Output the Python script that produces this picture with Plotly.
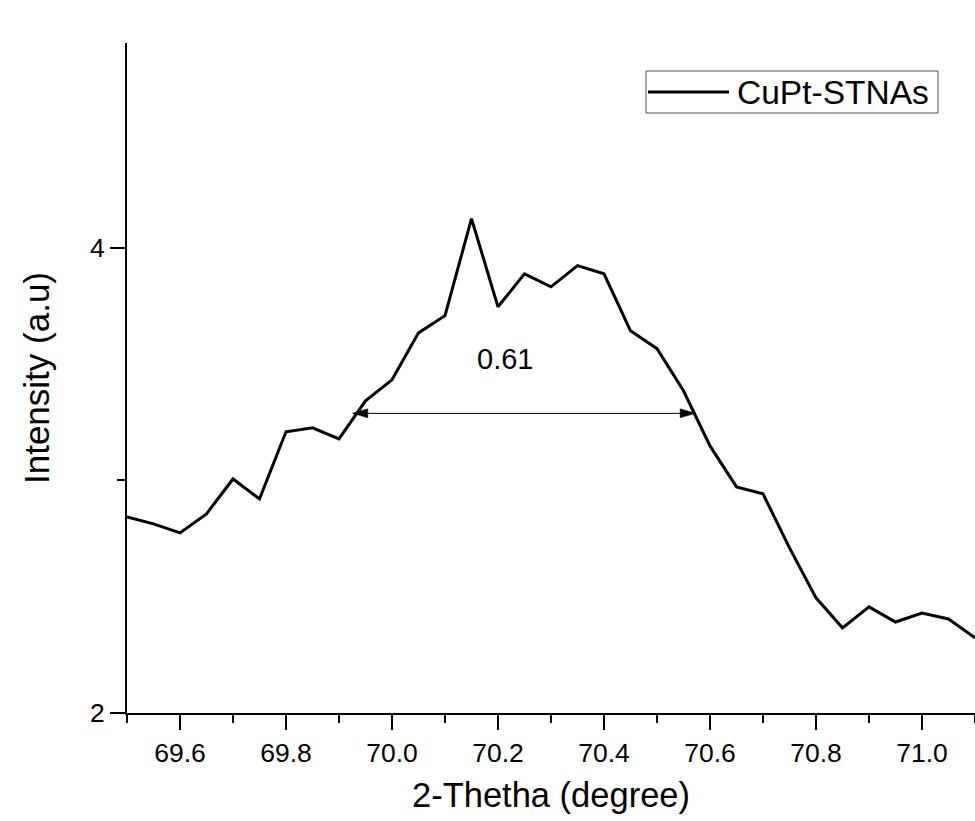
import plotly.graph_objects as go

# XRD scan around the (220) reflection
two_theta = [69.50, 69.55, 69.60, 69.65, 69.70, 69.75, 69.80, 69.85, 69.90, 69.95,
             70.00, 70.05, 70.10, 70.15, 70.20, 70.25, 70.30, 70.35, 70.40, 70.45,
             70.50, 70.55, 70.60, 70.65, 70.70, 70.75, 70.80, 70.85, 70.90, 70.95,
             71.00, 71.05, 71.10]
intensity = [2.843, 2.813, 2.774, 2.856, 3.006, 2.920, 3.209, 3.226, 3.178, 3.342,
             3.432, 3.634, 3.708, 4.125, 3.746, 3.888, 3.832, 3.923, 3.888, 3.643,
             3.566, 3.385, 3.148, 2.972, 2.942, 2.710, 2.495, 2.366, 2.456, 2.391,
             2.430, 2.404, 2.323]

series_name = "CuPt-STNAs"
fwhm_label = "0.61"
fwhm_left, fwhm_right, fwhm_level = 69.926, 70.572, 3.288
label_pos = (70.213, 3.523)

x_range = [69.5, 71.1]
y_range = [2.0, 4.88]

FONT = "Liberation Sans, Arial, Helvetica, sans-serif"

fig = go.Figure()
fig.add_trace(go.Scatter(
    x=two_theta, y=intensity, mode="lines", name=series_name,
    line=dict(color="black", width=3), showlegend=False,
))

# horizontal dimension line marking the peak width
fig.add_shape(type="line", xref="x", yref="y",
              x0=fwhm_left, x1=fwhm_right, y0=fwhm_level, y1=fwhm_level,
              line=dict(color="black", width=1))
head_dx = 15 / 530.0          # arrowhead length in x units
head_dy = 4.5 / 232.5         # arrowhead half-height in y units
for tip, direction in ((fwhm_left, 1), (fwhm_right, -1)):
    base = tip + direction * head_dx
    fig.add_shape(
        type="path", xref="x", yref="y",
        path=(f"M {tip} {fwhm_level} L {base} {fwhm_level + head_dy} "
              f"L {base} {fwhm_level - head_dy} Z"),
        fillcolor="black", line=dict(color="black", width=0.5),
    )
fig.add_annotation(x=label_pos[0], y=label_pos[1], xref="x", yref="y",
                   text=fwhm_label, showarrow=False,
                   font=dict(family=FONT, size=29, color="black"))

# legend box drawn in paper space
W, H = 975, 821
ml, mr, mt, mb = 127, 0, 43, 108
pw, ph = W - ml - mr, H - mt - mb
def px(x):
    return (x - ml) / pw
def py(y):
    return (H - mb - y) / ph
fig.add_shape(type="rect", xref="paper", yref="paper",
              x0=px(646), x1=px(938), y0=py(113), y1=py(71),
              line=dict(color="#555555", width=1), fillcolor="white")
fig.add_shape(type="line", xref="paper", yref="paper",
              x0=px(648), x1=px(729), y0=py(92), y1=py(92),
              line=dict(color="black", width=3))
fig.add_annotation(x=px(735), y=py(92), xref="paper", yref="paper",
                   xanchor="left", yanchor="middle", text=series_name,
                   showarrow=False, font=dict(family=FONT, size=33.5, color="black"))

fig.update_layout(
    width=W, height=H,
    margin=dict(l=ml, r=mr, t=mt, b=mb, pad=0),
    paper_bgcolor="white", plot_bgcolor="white",
    font=dict(family=FONT, color="black"),
)
fig.update_xaxes(
    range=x_range, showgrid=False, zeroline=False,
    showline=True, linecolor="black", linewidth=2,
    ticks="outside", ticklen=15, tickwidth=2, tickcolor="black",
    tick0=69.6, dtick=0.2, tickformat=".1f",
    minor=dict(ticks="outside", ticklen=8, tickwidth=2, tickcolor="black", dtick=0.1, tick0=69.5),
    tickfont=dict(family=FONT, size=26.5, color="black"),
    title=dict(text="2-Thetha (degree)", font=dict(family=FONT, size=34.5, color="black"), standoff=16),
)
fig.update_yaxes(
    range=y_range, showgrid=False, zeroline=False,
    showline=True, linecolor="black", linewidth=2,
    ticks="outside", ticklen=15, tickwidth=2, tickcolor="black",
    tick0=2, dtick=2,
    minor=dict(ticks="outside", ticklen=8, tickwidth=2, tickcolor="black", dtick=1, tick0=2),
    tickfont=dict(family=FONT, size=26.5, color="black"),
    title=dict(text="Intensity (a.u)", font=dict(family=FONT, size=35, color="black"), standoff=30),
)

fig.write_html("out.html")
